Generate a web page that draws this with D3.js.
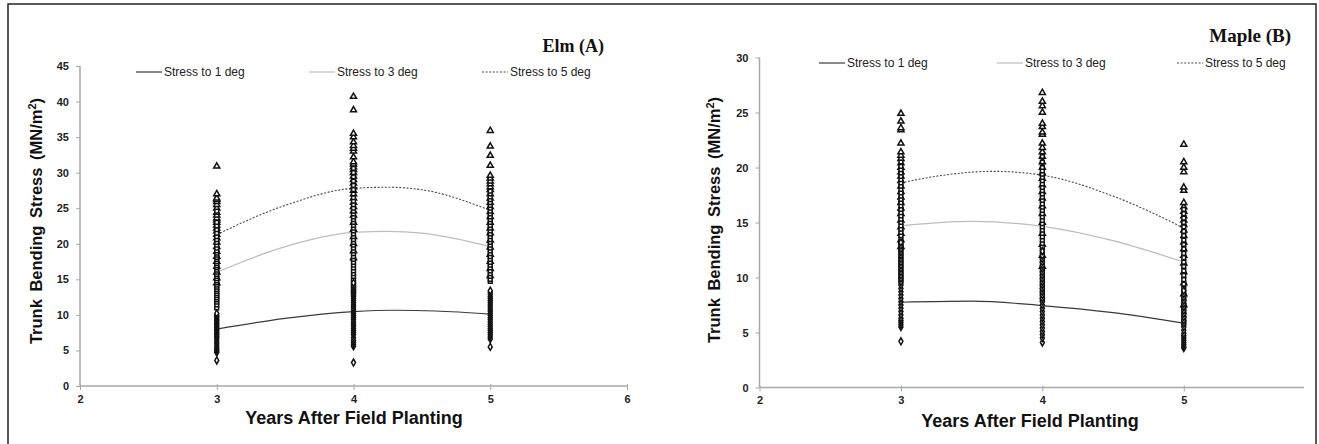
<!DOCTYPE html>
<html><head><meta charset="utf-8">
<script src="https://cdn.jsdelivr.net/npm/d3@7"></script>
<style>body{margin:0;background:#fff}svg{display:block}</style>
</head><body><svg id="c" width="1319" height="444"></svg>
<script>
// ---------- data ----------
const years = [3, 4, 5];
const seriesNames = ["Stress to 1 deg", "Stress to 3 deg", "Stress to 5 deg"];

// Elm (A) observations per year
const elm1deg = {
  3: [3.6,4.7,4.9,5.1,5.3,5.6,5.9,6.2,6.5,6.8,7.0,7.2,7.4,7.6,7.8,8.0,8.2,8.4,8.6,8.8,9.0,9.2,9.4,9.6,9.8,10.0,10.2],
  4: [3.3,5.6,5.8,6.1,6.4,6.8,7.2,7.5,7.8,8.1,8.4,8.7,9.0,9.3,9.6,9.9,10.2,10.5,10.8,11.1,11.4,11.7,12.0,12.3,12.6,12.9,13.2,13.5,13.8,14.1,14.5],
  5: [5.5,6.6,6.9,7.2,7.5,7.8,8.1,8.4,8.7,9.0,9.3,9.6,9.9,10.2,10.5,10.8,11.1,11.4,11.7,12.0,12.3,12.6,12.9,13.2,13.4]
};
const elm3deg = {
  3: [11.0,11.4,11.8,12.1,12.4,12.7,13.0,13.3,13.6,13.9,14.2,14.5,14.8,15.1,15.4,15.7,16.0,16.3,16.6,16.9,17.2,17.5,17.8,18.1,18.4,18.7,19.0,19.4,19.8,20.2,20.6,21.0,21.5,22.0,22.5,23.0,24.6],
  4: [13.0,13.4,13.8,14.2,14.6,15.0,15.4,15.8,16.2,16.6,17.0,17.4,17.8,18.2,18.6,19.0,19.4,19.8,20.2,20.6,21.0,21.4,21.8,22.2,22.6,23.0,23.4,23.8,24.2,24.6,25.0,25.5,26.0,26.5,27.0,27.6,28.2,28.8,29.4,30.0,30.6],
  5: [14.7,15.0,15.4,15.8,16.2,16.6,17.0,17.4,17.8,18.2,18.6,19.0,19.4,19.8,20.2,20.6,21.0,21.4,21.8,22.2,22.6,23.0,23.4,23.8,24.2,24.6,25.0,25.4,25.8,26.2,26.6,27.0,27.4]
};
const elm5deg = {
  3: [14.5,15.2,16.0,16.8,17.5,18.2,18.9,19.6,20.2,20.8,21.3,21.8,22.2,22.6,23.0,23.3,23.6,24.0,24.4,25.0,25.5,25.9,26.2,26.4,27.0,30.9],
  4: [18.0,19.0,20.0,21.0,22.0,23.0,24.0,24.6,25.2,25.8,26.4,27.0,27.5,28.0,28.5,29.0,29.5,30.0,30.4,30.8,31.2,31.5,32.2,33.0,33.4,33.8,34.3,35.0,35.5,38.8,40.7],
  5: [15.5,16.5,17.5,18.5,19.5,20.5,21.5,22.2,23.0,23.8,24.5,25.2,25.8,26.4,27.0,27.6,28.0,28.4,28.8,29.2,29.6,31.0,32.4,33.7,35.9]
};
// Elm fitted curves (x, y)
const elmCurveX1 = [3, 3.5, 4, 4.3, 4.6, 5];
const elmCurveY1 = [8.0, 9.5, 10.45, 10.65, 10.55, 10.1];
const elmCurveX3 = [3, 3.5, 4, 4.25, 4.5, 5];
const elmCurveY3 = [16.0, 19.6, 21.6, 21.75, 21.5, 19.6];
const elmCurveX5 = [3, 3.5, 4, 4.25, 4.5, 5];
const elmCurveY5 = [21.3, 25.4, 27.8, 27.95, 27.6, 24.7];

// Maple (B) observations per year
const maple1deg = {
  3: [4.2,5.5,5.7,5.9,6.1,6.3,6.6,6.9,7.2,7.5,7.8,8.1,8.4,8.7,9.0,9.3,9.6,9.9,10.2,10.5,10.8,11.1,11.4,11.7,12.0,12.3,12.6,12.9,13.2],
  4: [4.1,4.5,4.8,5.1,5.4,5.7,6.0,6.3,6.6,6.9,7.2,7.5,7.8,8.1,8.4,8.7,9.0,9.3,9.6,9.9,10.2,10.5,10.8,11.1,11.4,11.7,12.0,12.4],
  5: [3.6,3.7,3.9,4.1,4.3,4.5,4.7,4.9,5.2,5.5,5.8,6.1,6.4,6.7,7.0,7.3,7.6,7.9,8.2,8.5,8.8]
};
const maple3deg = {
  3: [9.6,9.9,10.2,10.5,10.8,11.1,11.4,11.7,12.0,12.3,12.6,12.9,13.2,13.5,13.8,14.1,14.4,14.7,15.0,15.3,15.6,15.9,16.2,16.5,16.8,17.1,17.4,17.7,18.0,18.3,18.6,18.9,19.2,19.5,19.8,20.1,20.5],
  4: [8.0,8.4,8.8,9.2,9.6,10.0,10.4,10.8,11.2,11.6,12.0,12.4,12.8,13.1,13.4,13.7,14.0,14.3,14.6,14.9,15.2,15.5,15.8,16.1,16.4,16.7,17.0,17.3,17.6,17.9,18.2,18.5,18.8,19.1,19.4,19.7,20.0,20.5,21.0],
  5: [5.8,6.2,6.6,7.0,7.4,7.8,8.2,8.6,9.0,9.4,9.8,10.2,10.6,11.0,11.4,11.8,12.2,12.6,13.0,13.4,13.8,14.2,14.6,15.0,15.4,15.8,16.2]
};
const maple5deg = {
  3: [12.8,13.4,14.0,14.6,15.2,15.8,16.3,16.8,17.3,17.8,18.3,18.8,19.2,19.6,20.0,20.4,20.8,21.1,21.4,22.2,23.4,23.6,24.2,24.9],
  4: [11.0,12.0,13.0,14.0,15.0,15.8,16.5,17.2,17.8,18.4,19.0,19.5,20.0,20.5,21.0,21.4,21.8,22.2,23.0,23.2,23.7,24.0,25.0,25.6,26.0,26.8],
  5: [7.5,8.5,9.5,10.5,11.3,12.0,12.6,13.2,13.8,14.3,14.8,15.2,15.6,16.0,16.4,16.8,17.9,18.2,19.6,20.0,20.5,22.1]
};
const mapleCurveX1 = [3, 3.5, 4, 4.5, 5];
const mapleCurveY1 = [7.75, 7.85, 7.45, 6.8, 5.85];
const mapleCurveX3 = [3, 3.5, 4, 4.5, 5];
const mapleCurveY3 = [14.7, 15.1, 14.65, 13.35, 11.4];
const mapleCurveX5 = [3, 3.3, 3.65, 4, 4.5, 5];
const mapleCurveY5 = [18.6, 19.3, 19.65, 19.3, 17.4, 14.5];

const elmXTicks = [2, 3, 4, 5, 6];
const elmYTicks = [0, 5, 10, 15, 20, 25, 30, 35, 40, 45];
const mapleXTicks = [2, 3, 4, 5];
const mapleYTicks = [0, 5, 10, 15, 20, 25, 30];

// ---------- drawing ----------
const svg = d3.select("#c");
svg.append("rect").attr("x", 8).attr("y", 4).attr("width", 1308).attr("height", 460)
  .attr("fill", "none").attr("stroke", "#222").attr("stroke-width", 1.5);

const lineStyles = [
  {stroke: "#3a3a3a", dash: null, width: 1.2},
  {stroke: "#bdbdbd", dash: null, width: 1.2},
  {stroke: "#4a4a4a", dash: "2,1.6", width: 1.1}
];

function panel(cfg) {
  const g = svg.append("g");
  const x = d3.scaleLinear().domain(cfg.xDomain).range([cfg.x0, cfg.x1]);
  const y = d3.scaleLinear().domain(cfg.yDomain).range([cfg.y0, cfg.y1]);
  const axisColor = "#a8a8a8";

  const xa = g.append("g").attr("transform", `translate(0,${cfg.y0})`)
    .call(d3.axisBottom(x).tickValues(cfg.xTicks).tickSize(4).tickPadding(5).tickFormat(d3.format("d")));
  xa.select(".domain").attr("stroke", axisColor).attr("stroke-width", 1.5)
    .attr("d", `M${cfg.x0},0H${cfg.x1}`);
  xa.selectAll(".tick line").attr("stroke", axisColor).attr("y1", -2);
  xa.selectAll(".tick text").attr("fill", "#222").attr("font-family", "Liberation Sans, Arial, sans-serif")
    .attr("font-weight", "bold").attr("font-size", 11);

  const ya = g.append("g").attr("transform", `translate(${cfg.x0},0)`)
    .call(d3.axisLeft(y).tickValues(cfg.yTicks).tickSize(4).tickPadding(7).tickFormat(d3.format("d")));
  ya.select(".domain").attr("stroke", axisColor).attr("stroke-width", 1.5)
    .attr("d", `M0,${cfg.y0}V${cfg.y1}`);
  ya.selectAll(".tick line").attr("stroke", axisColor);
  ya.selectAll(".tick text").attr("fill", "#222").attr("font-family", "Liberation Sans, Arial, sans-serif")
    .attr("font-weight", "bold").attr("font-size", 11);

  // fitted curves
  const line = d3.line().x(d => x(d[0])).y(d => y(d[1])).curve(d3.curveMonotoneX);
  cfg.curves.forEach((c, i) => {
    const pts = c.x.map((v, k) => [v, c.y[k]]);
    g.append("path").attr("d", line(pts)).attr("fill", "none")
      .attr("stroke", lineStyles[i].stroke).attr("stroke-width", lineStyles[i].width)
      .attr("stroke-dasharray", lineStyles[i].dash);
  });

  // markers: triangles (5 deg), squares (3 deg), diamonds (1 deg)
  const symTypes = [d3.symbolDiamond, d3.symbolSquare, d3.symbolTriangle];
  const symSizes = [14, 14, 16];
  [2, 1, 0].forEach(si => {
    const obs = cfg.obs[si];
    const pts = [];
    years.forEach(yr => obs[yr].forEach(v => pts.push([yr, v])));
    g.append("g").selectAll("path").data(pts).join("path")
      .attr("transform", d => `translate(${x(d[0])},${y(d[1])})`)
      .attr("d", d3.symbol().type(symTypes[si]).size(symSizes[si]))
      .attr("fill", "#fff").attr("stroke", "#111").attr("stroke-width", 1.5);
  });

  // legend
  cfg.legend.forEach((lx, i) => {
    g.append("line").attr("x1", lx).attr("x2", lx + 26).attr("y1", cfg.legY).attr("y2", cfg.legY)
      .attr("stroke", lineStyles[i].stroke).attr("stroke-width", lineStyles[i].width)
      .attr("stroke-dasharray", lineStyles[i].dash);
    g.append("text").attr("x", lx + 28).attr("y", cfg.legY + 4).text(seriesNames[i])
      .attr("font-family", "Liberation Sans, Arial, sans-serif").attr("font-size", 12).attr("fill", "#222");
  });

  // panel title
  g.append("text").attr("x", cfg.titleX).attr("y", cfg.titleY).attr("text-anchor", "end")
    .attr("font-family", "Liberation Serif, Times New Roman, serif").attr("font-weight", "bold")
    .attr("font-size", cfg.titleSize).attr("fill", "#111").text(cfg.title);

  // axis titles
  g.append("text").attr("x", cfg.xTitleCx).attr("y", cfg.xTitleY).attr("text-anchor", "middle")
    .attr("font-family", "Liberation Sans, Arial, sans-serif").attr("font-weight", "bold")
    .attr("font-size", 18).attr("fill", "#111").text("Years After Field Planting");
  const yt = g.append("text").attr("transform", `translate(${cfg.yTitleX},${cfg.yTitleY}) rotate(-90)`)
    .attr("text-anchor", "middle").attr("font-family", "Liberation Sans, Arial, sans-serif")
    .attr("font-weight", "bold").attr("font-size", 16.5).attr("fill", "#111").attr("word-spacing", 3);
  yt.append("tspan").text("Trunk Bending Stress (MN/m");
  yt.append("tspan").attr("dy", -6).attr("font-size", 11).text("2");
  yt.append("tspan").attr("dy", 6).text(")");
}

panel({
  xDomain: [2, 6], yDomain: [0, 45], x0: 80, x1: 627, y0: 386, y1: 66,
  xTicks: elmXTicks, yTicks: elmYTicks,
  obs: [elm1deg, elm3deg, elm5deg],
  curves: [{x: elmCurveX1, y: elmCurveY1}, {x: elmCurveX3, y: elmCurveY3}, {x: elmCurveX5, y: elmCurveY5}],
  legend: [136, 309, 482], legY: 72,
  title: "Elm (A)", titleX: 604, titleY: 52, titleSize: 18,
  xTitleCx: 354, xTitleY: 424, yTitleX: 42, yTitleY: 221
});
panel({
  xDomain: [2, 5.85], yDomain: [0, 30], x0: 759.5, x1: 1304, y0: 387.5, y1: 57.5,
  xTicks: mapleXTicks, yTicks: mapleYTicks,
  obs: [maple1deg, maple3deg, maple5deg],
  curves: [{x: mapleCurveX1, y: mapleCurveY1}, {x: mapleCurveX3, y: mapleCurveY3}, {x: mapleCurveX5, y: mapleCurveY5}],
  legend: [819, 997, 1177], legY: 63,
  title: "Maple (B)", titleX: 1291, titleY: 42, titleSize: 19,
  xTitleCx: 1030, xTitleY: 427, yTitleX: 720, yTitleY: 220
});
</script>
</body></html>
